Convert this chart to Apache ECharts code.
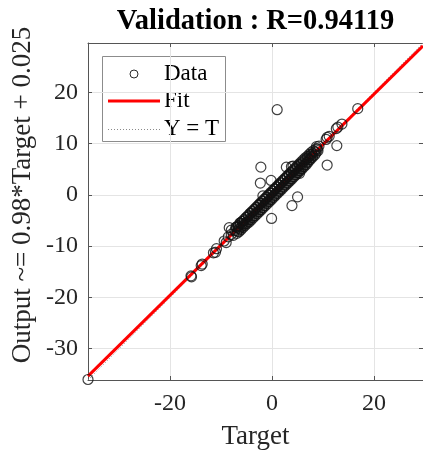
<!DOCTYPE html>
<html>
<head>
<meta charset="utf-8">
<script src="https://cdn.jsdelivr.net/npm/echarts@6/dist/echarts.min.js"></script>
<style>
  html, body { margin: 0; padding: 0; background: #ffffff; }
  #chart { width: 423px; height: 455px; }
</style>
</head>
<body>
<div id="chart"></div>
<script>
// Validation targets and network outputs
const targetValues = [
  -36.1, -15.9, -15.8, -13.9, -13.7, -11.5, -11.1, -10.9, -9.4, -9.0,
  -8.4, -8.0, -8.0, -6.7, -5.8, -2.2, -2.3, -0.2, -1.8, -0.1,
  2.8, 3.8, 4.1, 5.4, 5.0, 3.9, 1.0, 10.8, 12.7, 10.6,
  10.8, 12.6, 13.7, 16.8, 8.9, 8.7, 12.9,
  -7.3, -7.0, -6.8, -6.6, -6.4, -6.2, -6.0, -5.8, -5.6, -5.4,
  -5.2, -5.0, -4.8, -4.6, -4.4, -4.2, -4.0, -3.8, -3.6, -3.4,
  -3.2, -3.0, -2.8, -2.6, -2.4, -2.2, -2.0, -1.8, -1.6, -1.4,
  -1.2, -1.0, -0.8, -0.6, -0.4, -0.2, 0.0, 0.2, 0.4, 0.6,
  0.8, 1.0, 1.2, 1.4, 1.6, 1.8, 2.0, 2.2, 2.4, 2.6,
  2.8, 3.0, 3.2, 3.4, 3.6, 3.8, 4.0, 4.2, 4.4, 4.6,
  4.8, 5.0, 5.2, 5.4, 5.6, 5.8, 6.0, 6.2, 6.4, 6.6,
  6.8, 7.0, 7.2, 7.4, 7.6, 7.8, 8.0, 8.3, 8.6,
  -7.1, -6.9, -6.7, -6.5, -6.3, -6.1, -5.9, -5.7, -5.5, -5.3,
  -5.1, -4.9, -4.7, -4.5, -4.3, -4.1, -3.9, -3.7, -3.5, -3.3,
  -3.1, -2.9, -2.7, -2.5, -2.3, -2.1, -1.9, -1.7, -1.5, -1.3,
  -1.1, -0.9, -0.7, -0.5, -0.3, -0.1, 0.1, 0.3, 0.5, 0.7,
  0.9, 1.1, 1.3, 1.5, 1.7, 1.9, 2.1, 2.3, 2.5, 2.7,
  2.9, 3.1, 3.3, 3.5, 3.7, 3.9, 4.1, 4.3, 4.5, 4.7,
  4.9, 5.1, 5.3, 5.5, 5.7, 5.9, 6.1, 6.3, 6.5, 6.7,
  6.9, 7.1, 7.3, 7.5, 7.7, 7.9, 8.1, 8.4, 8.7,
  9.0, 9.2, 11.2, -8.6, -7.6
];
const outputValues = [
  -36.0, -15.8, -16.0, -13.8, -13.5, -11.3, -11.2, -10.5, -9.0, -9.3,
  -6.4, -7.7, -6.9, -6.4, -5.6, 5.4, 2.3, 2.8, -0.2, -4.6,
  5.4, 5.5, 5.6, 4.2, -0.4, -2.1, 16.6, 5.8, 9.6, 10.8,
  11.2, 12.9, 13.8, 16.8, 8.9, 9.4, 13.2,
  -7.0, -6.3, -7.1, -6.0, -6.6, -5.5, -6.3, -5.2, -5.9, -5.0,
  -5.6, -4.4, -5.2, -4.2, -4.8, -3.6, -4.4, -3.3, -4.1, -2.9,
  -3.6, -2.5, -3.3, -2.0, -2.9, -1.7, -2.5, -1.3, -2.1, -0.9,
  -1.6, -0.5, -1.3, -0.1, -0.9, 0.3, -0.5, 0.7, -0.1, 1.1,
  0.3, 1.5, 0.7, 1.9, 1.1, 2.3, 1.5, 2.7, 1.9, 3.1,
  2.3, 3.5, 2.7, 3.9, 3.1, 4.3, 3.5, 4.6, 3.9, 5.0,
  4.3, 5.4, 4.7, 5.8, 5.1, 6.1, 5.5, 6.5, 5.9, 6.9,
  6.3, 7.2, 6.8, 7.6, 7.2, 7.9, 7.6, 8.4, 8.2,
  -6.3, -7.5, -6.1, -7.2, -5.5, -6.8, -5.2, -6.4, -4.8, -6.0,
  -4.4, -5.6, -4.0, -5.3, -3.6, -4.9, -3.2, -4.5, -2.8, -4.1,
  -2.4, -3.7, -2.0, -3.3, -1.6, -2.9, -1.2, -2.5, -0.8, -2.1,
  -0.4, -1.7, 0.0, -1.3, 0.4, -0.9, 0.8, -0.5, 1.2, -0.1,
  1.6, 0.3, 2.0, 0.7, 2.4, 1.1, 2.8, 1.5, 3.2, 1.9,
  3.6, 2.3, 4.0, 2.7, 4.4, 3.1, 4.8, 3.5, 5.2, 3.9,
  5.6, 4.3, 6.0, 4.7, 6.4, 5.1, 6.8, 5.5, 7.2, 5.9,
  7.5, 6.4, 7.9, 6.9, 8.3, 7.3, 8.6, 7.8, 9.0,
  8.6, 9.5, 11.4, -8.2, -7.9
];

// Linear fit reported on the axis label and the validation R value
const fitSlope = 0.98;
const fitIntercept = 0.025;
const rValue = '0.94119';

// Shared limits of both axes and the labelled tick values
const axisMin = -36.1;
const axisMax = 29.6;
const xTickValues = [-20, 0, 20];
const yTickValues = [-30, -20, -10, 0, 10, 20];

const serif = 'Liberation Serif';
const axisColor = '#555555';
const inkColor = '#262626';

const points = targetValues.map((t, i) => [t, outputValues[i]]);
const fitLine = [axisMin, axisMax].map(t => [t, fitSlope * t + fitIntercept]);
const identityLine = [axisMin, axisMax].map(t => [t, t]);

const chart = echarts.init(document.getElementById('chart'), null, { renderer: 'canvas' });

function makeAxis(kind, position, ticks, showLabels) {
  return {
    type: 'value',
    position: position,
    min: axisMin,
    max: axisMax,
    axisLine: { show: true, onZero: false, lineStyle: { color: axisColor, width: 1 } },
    axisTick: {
      show: true, inside: true, length: 4, customValues: ticks,
      lineStyle: { color: axisColor, width: 1 }
    },
    axisLabel: {
      show: showLabels, customValues: ticks,
      fontFamily: serif, fontSize: 24, color: inkColor,
      margin: kind === 'x' ? 12 : 10
    },
    splitLine: { show: showLabels, lineStyle: { color: '#e4e4e4', width: 1 } }
  };
}

chart.setOption({
  backgroundColor: '#ffffff',
  animation: false,
  grid: { left: 88, top: 43, right: 0, bottom: 75, containLabel: false },
  xAxis: [
    makeAxis('x', 'bottom', xTickValues, true),
    makeAxis('x', 'top', xTickValues, false)
  ],
  yAxis: [
    makeAxis('y', 'left', yTickValues, true),
    makeAxis('y', 'right', yTickValues, false)
  ],
  series: [
    {
      name: 'Y = T',
      type: 'line',
      data: identityLine,
      symbol: 'none',
      lineStyle: { color: '#8a8a8a', width: 1, type: [1, 2] },
      z: 2
    },
    {
      name: 'Fit',
      type: 'line',
      data: fitLine,
      symbol: 'none',
      lineStyle: { color: '#ff0000', width: 3 },
      z: 3
    },
    {
      name: 'Data',
      type: 'scatter',
      data: points,
      symbol: 'circle',
      symbolSize: 10,
      itemStyle: { color: 'rgba(0,0,0,0)', borderColor: '#111111', borderWidth: 1.2 },
      z: 4
    }
  ],
  graphic: [
    {
      type: 'text', x: 255.5, y: 22, z: 10,
      style: {
        text: 'Validation : R=' + rValue,
        font: 'bold 28.5px "Liberation Serif"', fill: '#000000',
        textAlign: 'center', textVerticalAlign: 'middle'
      }
    },
    {
      type: 'text', x: 255.5, y: 437, z: 10,
      style: {
        text: 'Target', font: '27px "Liberation Serif"', fill: inkColor,
        textAlign: 'center', textVerticalAlign: 'middle'
      }
    },
    {
      type: 'text', x: 23, y: 195, rotation: Math.PI / 2, z: 10,
      style: {
        text: 'Output ~= ' + fitSlope + '*Target + ' + fitIntercept,
        font: '27px "Liberation Serif"', fill: inkColor,
        textAlign: 'center', textVerticalAlign: 'middle'
      }
    },
    {
      type: 'group', z: 20,
      children: [
        {
          type: 'rect', shape: { x: 102.5, y: 56.5, width: 123, height: 85 },
          style: { fill: '#ffffff', stroke: '#8c8c8c', lineWidth: 1 }
        },
        {
          type: 'circle', shape: { cx: 134, cy: 74, r: 4 },
          style: { fill: 'rgba(0,0,0,0)', stroke: '#2b2b2b', lineWidth: 1 }
        },
        {
          type: 'text', x: 164, y: 74,
          style: { text: 'Data', font: '23px "Liberation Serif"', fill: '#000000', textVerticalAlign: 'middle' }
        },
        {
          type: 'line', shape: { x1: 108, y1: 101, x2: 160, y2: 101 },
          style: { stroke: '#ff0000', lineWidth: 3 }
        },
        {
          type: 'text', x: 164, y: 101,
          style: { text: 'Fit', font: '23px "Liberation Serif"', fill: '#000000', textVerticalAlign: 'middle' }
        },
        {
          type: 'line', shape: { x1: 108, y1: 129.5, x2: 160, y2: 129.5 },
          style: { stroke: '#8a8a8a', lineWidth: 1, lineDash: [1, 2] }
        },
        {
          type: 'text', x: 164, y: 129,
          style: { text: 'Y = T', font: '23px "Liberation Serif"', fill: '#000000', textVerticalAlign: 'middle' }
        }
      ]
    }
  ]
});
</script>
</body>
</html>
